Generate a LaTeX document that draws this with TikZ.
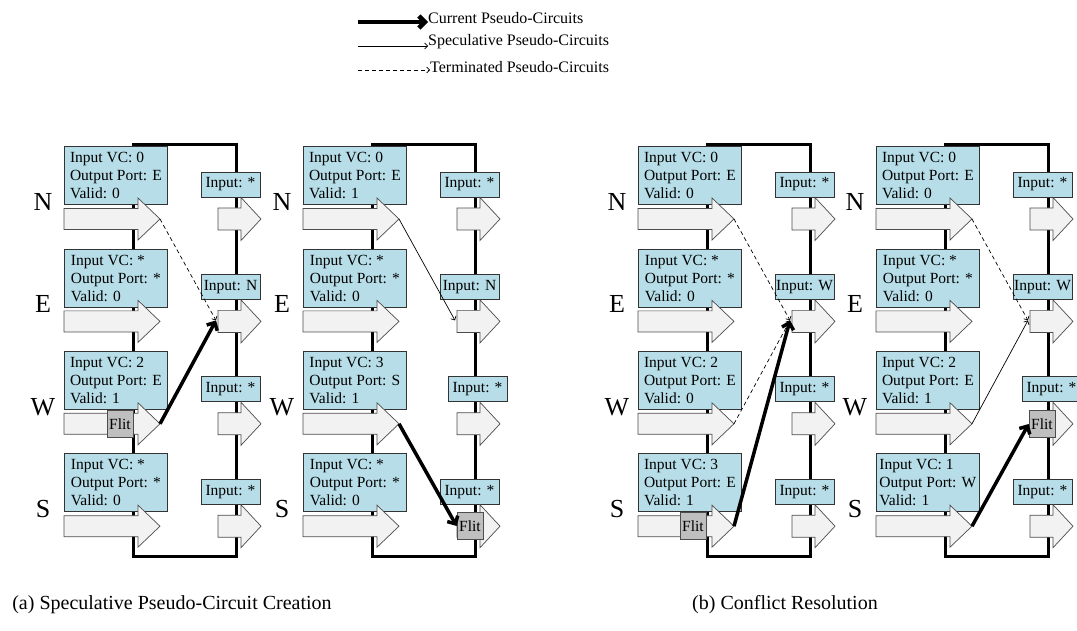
\documentclass[tikz,border=0pt]{standalone}
\usepackage{fontspec}
\setmainfont{Liberation Serif}
\usetikzlibrary{arrows.meta}
\definecolor{vcfill}{HTML}{B7DEE8}
\definecolor{portfill}{HTML}{F2F2F2}
\definecolor{flitfill}{HTML}{BFBFBF}

\begin{document}
\begin{tikzpicture}[x=1pt, y=-1pt,
  boxfont/.style={font=\fontsize{15.5}{18}\selectfont},
  rtrframe/.style={line width=3pt},
  vcbox/.style={draw=black!80, line width=0.8pt, fill=vcfill, boxfont, align=left,
    minimum width=103pt, minimum height=58pt, inner xsep=3pt, inner ysep=1pt, anchor=south west},
  inbox/.style={draw=black!80, line width=0.8pt, fill=vcfill, boxfont,
    minimum width=59pt, minimum height=25pt, inner sep=0.5pt},
  portarrow/.style={draw=black!70, line width=0.7pt, fill=portfill},
  flit/.style={draw=black!70, line width=0.7pt, fill=flitfill, boxfont,
    minimum width=26pt, minimum height=27pt, inner sep=0pt},
  portlbl/.style={font=\fontsize{26}{30}\selectfont},
  legfont/.style={font=\fontsize{16}{19}\selectfont, anchor=west, inner sep=0pt},
  capfont/.style={font=\fontsize{20}{24}\selectfont},
  curpc/.style={line width=3.5pt, -{Straight Barb[length=6pt,width=12pt]}},
  specpc/.style={line width=0.7pt, -{Straight Barb[length=3pt,width=6pt]}},
  termpc/.style={specpc, dash pattern=on 4pt off 3pt},
]
\useasboundingbox (0,0) rectangle (1077,631);

% legend
\coordinate (lgcur) at (358,22);
\node[legfont] (lgcurtxt) at (428,18) {Current Pseudo-Circuits};
\draw[curpc, line width=4.5pt] (lgcur) -- (lgcur -| lgcurtxt.west);
\coordinate (lgspec) at (358,46);
\node[legfont] (lgspectxt) at (428,42) {Speculative Pseudo-Circuits};
\draw[specpc] (lgspec) -- (lgspec -| lgspectxt.west);
\coordinate (lgterm) at (358,70);
\node[legfont] (lgtermtxt) at (430,67) {Terminated Pseudo-Circuits};
\draw[termpc] (lgterm) -- (lgterm -| lgtermtxt.west);

% router frames
\foreach \ox in {0,239,574,812}
  \draw[rtrframe] (\ox+133,145) rectangle (\ox+236,556);

% input VC state
\foreach \ox/\p/\rw/\k/\vc/\op/\vl in {
    0/a/N/0/0/E/0, 0/a/E/1/*/*/0, 0/a/W/2/2/E/1, 0/a/S/3/*/*/0,
    239/b/N/0/0/E/1, 239/b/E/1/*/*/0, 239/b/W/2/3/S/1, 239/b/S/3/*/*/0,
    574/c/N/0/0/E/0, 574/c/E/1/*/*/0, 574/c/W/2/2/E/0, 574/c/S/3/3/E/1,
    812/d/N/0/0/E/0, 812/d/E/1/*/*/0, 812/d/W/2/2/E/1, 812/d/S/3/1/W/1} {
  \pgfmathsetmacro\cy{219+102.4*\k}
  \node[vcbox] (vc-\p\rw) at (\ox+64,\cy-14) {Input VC: \vc\\Output Port: \op\\Valid: \vl};
  \node[portlbl] (lbl-\p\rw) at (\ox+43,\cy-17) {\rw};
}

% input ports
\foreach \ox/\p in {0/a,239/b,574/c,812/d}
  \foreach \rw/\k in {N/0,E/1,W/2,S/3} {
    \pgfmathsetmacro\cy{219+102.4*\k}
    \draw[portarrow] (\ox+64,\cy-10.5) -- (\ox+138,\cy-10.5) -- (\ox+138,\cy-21)
      -- (\ox+160,\cy) -- (\ox+138,\cy+21) -- (\ox+138,\cy+10.5) -- (\ox+64,\cy+10.5) -- cycle;
    \coordinate (\p\rw-tip) at (\ox+160,\cy);
  }

% output port state
\foreach \ox/\p/\k/\src/\dx in {
    0/a/0/*/0, 0/a/1/N/0, 0/a/2/*/0, 0/a/3/*/0,
    239/b/0/*/0, 239/b/1/N/0, 239/b/2/*/8, 239/b/3/*/0,
    574/c/0/*/0, 574/c/1/W/0, 574/c/2/*/0, 574/c/3/*/0,
    812/d/0/*/0, 812/d/1/W/0, 812/d/2/*/9, 812/d/3/*/0} {
  \pgfmathsetmacro\cy{219+102.4*\k}
  \node[inbox] (in-\p\k) at (\ox+230.5+\dx,\cy-34.5) {Input: \src};
}

% output ports
\foreach \ox/\p in {0/a,239/b,574/c,812/d}
  \foreach \rw/\k in {N/0,E/1,W/2,S/3} {
    \pgfmathsetmacro\cy{219+102.4*\k}
    \draw[portarrow] (\ox+218,\cy-11) -- (\ox+241,\cy-11) -- (\ox+241,\cy-21.5)
      -- (\ox+261,\cy) -- (\ox+241,\cy+21.5) -- (\ox+241,\cy+11) -- (\ox+218,\cy+11) -- cycle;
    \coordinate (\p\rw-out) at (\ox+216,\cy-1);
  }

% flits
\node[flit] (flit-a) at (120,424) {Flit};
\node[flit] (flit-b) at (470,526) {Flit};
\node[flit] (flit-c) at (693,526) {Flit};
\node[flit] (flit-d) at (1042,424) {Flit};

% pseudo-circuits
\draw[termpc] (aN-tip) -- (aE-out);
\draw[curpc] (aW-tip) -- (aE-out);
\draw[specpc] (bN-tip) -- (bE-out);
\draw[curpc] (bW-tip) -- (flit-b.west);
\draw[termpc] (cN-tip) -- (cE-out);
\draw[termpc] (cW-tip) -- (cE-out);
\draw[curpc] (cS-tip) -- (cE-out);
\draw[termpc] (dN-tip) -- (dE-out);
\draw[specpc] (dW-tip) -- (dE-out);
\draw[curpc] (dS-tip) -- (flit-d.west);

% captions
\node[capfont] (capa) at (172,605) {(a) Speculative Pseudo-Circuit Creation};
\node[capfont] (capb) at (785,605) {(b) Conflict Resolution};
\end{tikzpicture}
\end{document}
